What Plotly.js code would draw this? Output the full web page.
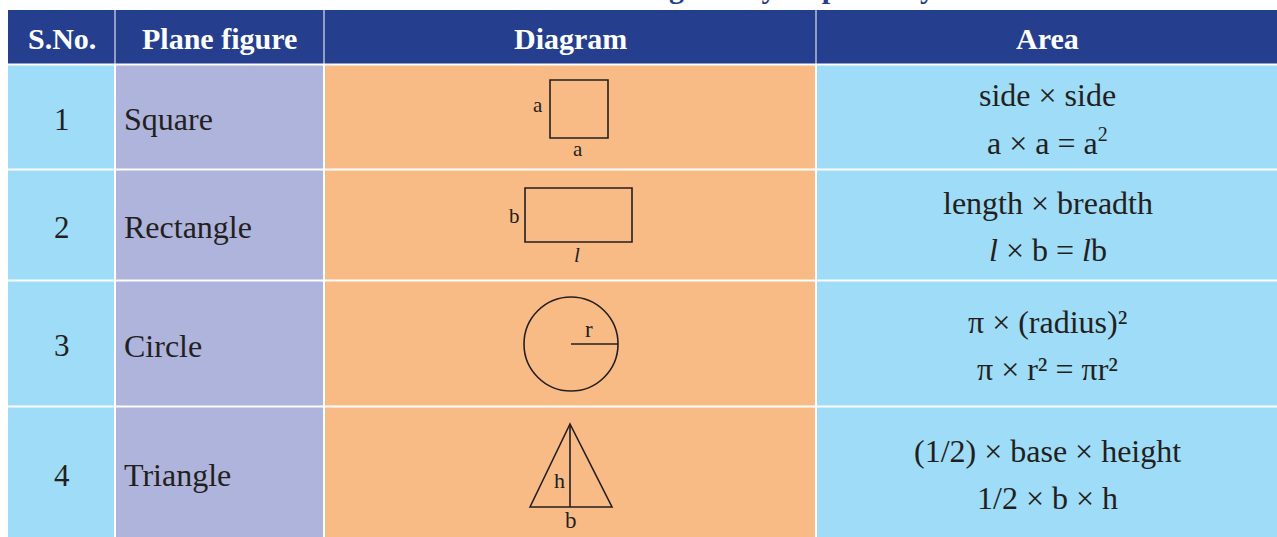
<!DOCTYPE html>
<html>
<head>
<meta charset="utf-8">
<script src="https://cdn.plot.ly/plotly-3.0.1.min.js"></script>
<style>
  html, body { margin: 0; padding: 0; background: #fff; }
  #chart { width: 1277px; height: 537px; }
</style>
</head>
<body>
<div id="chart"></div>
<script>
// Datos de la tabla
const headers = ['S.No.', 'Plane figure', 'Diagram', 'Area'];
const serialNumbers = ['1', '2', '3', '4'];
const figures = ['Square', 'Rectangle', 'Circle', 'Triangle'];
const areaWords = ['side × side', 'length × breadth', 'π × (radius)²', '(1/2) × base × height'];
const areaFormulas = ['a × a = a<sup><span style="font-size:20px">2</span></sup>', '<i>l</i> × b = <i>l</i>b', 'π × r² = πr²', '1/2 × b × h'];
const captionTail = 'given by respectively';

// Geometria de la tabla (pixeles)
const colEdges = [8, 115, 324, 816, 1279];
const rowEdges = [10, 64.5, 169.5, 280.5, 406.5, 540];
const headerColor = '#253f8e';
const columnColors = ['#9edcf7', '#aeb4dc', '#f9bb86', '#9edcf7'];
const ink = '#231f20';
const serif = 'Liberation Serif, Times New Roman, serif';

const shapes = [];
const annotations = [];

// Celdas
for (let r = 0; r < rowEdges.length - 1; r++) {
  for (let c = 0; c < colEdges.length - 1; c++) {
    shapes.push({
      type: 'rect', layer: 'below',
      x0: colEdges[c] + (c > 0 ? (r === 0 ? 0.5 : 1) : 0),
      x1: colEdges[c + 1] - (c < colEdges.length - 2 ? (r === 0 ? 0.5 : 1) : 0),
      y0: rowEdges[r] + (r > 0 ? 1 : 0),
      y1: rowEdges[r + 1] - (r < rowEdges.length - 2 ? 1 : 0),
      fillcolor: r === 0 ? headerColor : columnColors[c],
      line: { width: 0 }
    });
  }
}

function mid(arr, i) { return (arr[i] + arr[i + 1]) / 2; }

// Encabezados
headers.forEach((h, c) => {
  annotations.push({
    x: mid(colEdges, c), y: mid(rowEdges, 0) + 1, text: '<b>' + h + '</b>',
    showarrow: false, font: { family: serif, size: 30, color: '#ffffff' }
  });
});

// Filas
for (let i = 0; i < figures.length; i++) {
  const yc = mid(rowEdges, i + 1) + 2;
  annotations.push({
    x: mid(colEdges, 0), y: yc, text: serialNumbers[i], showarrow: false,
    font: { family: serif, size: 31, color: ink }
  });
  annotations.push({
    x: colEdges[1] + 7, y: yc, text: figures[i], showarrow: false, xanchor: 'left',
    font: { family: serif, size: 32, color: ink }
  });
  annotations.push({
    x: mid(colEdges, 3), y: yc - 24, text: areaWords[i], showarrow: false,
    font: { family: serif, size: 32, color: ink }
  });
  annotations.push({
    x: mid(colEdges, 3), y: yc + 23, text: areaFormulas[i], showarrow: false,
    font: { family: serif, size: 32, color: ink }
  });
}

// Diagramas
const stroke = { color: ink, width: 1.6 };
shapes.push({ type: 'rect', x0: 550, x1: 608, y0: 80, y1: 138, line: stroke });
shapes.push({ type: 'rect', x0: 525, x1: 632, y0: 188, y1: 242, line: stroke });
shapes.push({ type: 'circle', x0: 524, x1: 618, y0: 297, y1: 391, line: stroke });
shapes.push({ type: 'line', x0: 571, x1: 618, y0: 344, y1: 344, line: stroke });
shapes.push({ type: 'path', path: 'M 530 507 L 570 424 L 612 507 Z', line: stroke });
shapes.push({ type: 'line', x0: 570, x1: 570, y0: 424, y1: 507, line: stroke });

const diagramLabels = [
  { x: 538, y: 105, text: 'a', size: 21 },
  { x: 578, y: 149, text: 'a', size: 21 },
  { x: 514, y: 216, text: 'b', size: 21 },
  { x: 577, y: 255, text: '<i>l</i>', size: 21 },
  { x: 589, y: 329, text: 'r', size: 23 },
  { x: 559, y: 480, text: 'h', size: 22 },
  { x: 571, y: 520, text: 'b', size: 23 }
];
diagramLabels.forEach(l => {
  annotations.push({
    x: l.x, y: l.y, text: l.text, showarrow: false,
    font: { family: serif, size: l.size, color: ink }
  });
});

// Titulo cortado arriba
annotations.push({
  x: 667, y: 6, text: '<b>' + captionTail + '</b>', showarrow: false,
  xanchor: 'left', yanchor: 'bottom',
  font: { family: serif, size: 30, color: headerColor }
});

const layout = {
  width: 1277, height: 537,
  margin: { l: 0, r: 0, t: 0, b: 0 },
  paper_bgcolor: '#ffffff', plot_bgcolor: '#ffffff',
  xaxis: { range: [0, 1277], visible: false, fixedrange: true },
  yaxis: { range: [537, 0], visible: false, fixedrange: true },
  showlegend: false,
  shapes: shapes,
  annotations: annotations
};

Plotly.newPlot('chart', [{ x: [], y: [], type: 'scatter' }], layout, { displayModeBar: false, staticPlot: true });
</script>
</body>
</html>
